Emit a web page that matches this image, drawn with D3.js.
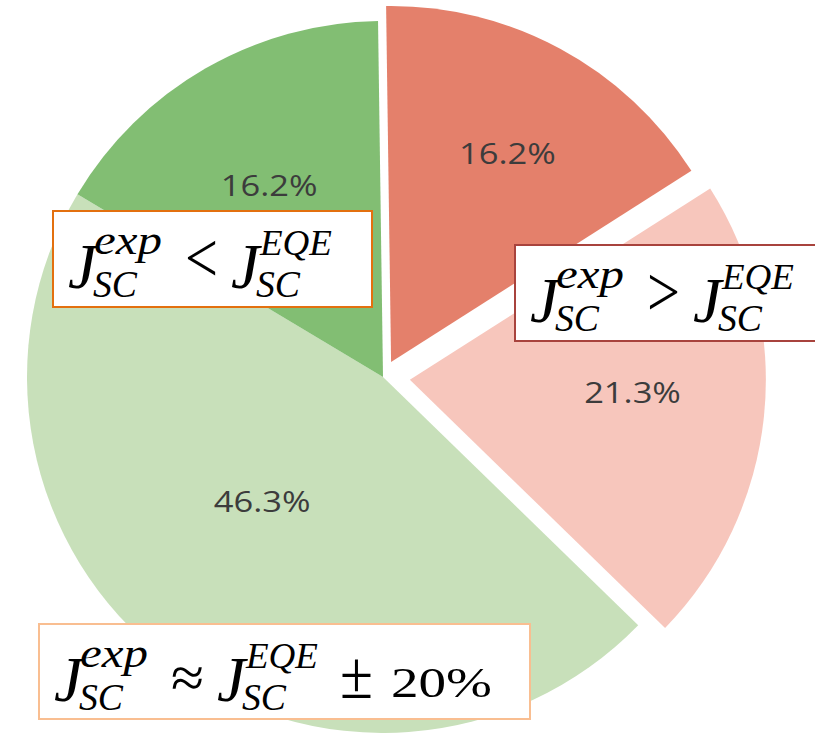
<!DOCTYPE html>
<html>
<head>
<meta charset="utf-8">
<script src="https://cdn.jsdelivr.net/npm/d3@7"></script>
<style>
  html, body { margin: 0; padding: 0; background: #fff; overflow: hidden; }
  svg { display: block; }
</style>
</head>
<body>
<svg id="chart" width="815" height="733"></svg>
<script>
// ---------------- data ----------------
const categories = ["J_SC^exp > J_SC^EQE (high)", "J_SC^exp > J_SC^EQE", "J_SC^exp ≈ J_SC^EQE ± 20%", "J_SC^exp < J_SC^EQE"];
const values = [16.2, 21.3, 46.3, 16.2];
const percentLabels = ["16.2%", "21.3%", "46.3%", "16.2%"];

// ---------------- styles / layout ----------------
const sliceColors = ["#E4806B", "#F7C6BC", "#C8E0BA", "#82BE73"];
const explode = [17, 27, 0, 0];           // pull-out distance per slice (px)
const labelNudge = [[8, -8], [-4, -11], [18, -56], [0, 6]];
const W = 815, H = 733;
const cx = 383, cy = 377, R = 356;
const rot = -0.8 * Math.PI / 180;

const svg = d3.select("#chart");
svg.append("rect").attr("width", W).attr("height", H).attr("fill", "#fff");

const pie = d3.pie().sort(null).value(d => d)
  .startAngle(rot).endAngle(rot + 2 * Math.PI);
const arcs = pie(values);
const arc = d3.arc().innerRadius(0).outerRadius(R);
const labelArc = d3.arc().innerRadius(R * 0.64).outerRadius(R * 0.64);

const g = svg.append("g").attr("transform", `translate(${cx},${cy})`);

function offset(d, i) {
  const a = (d.startAngle + d.endAngle) / 2;
  return [Math.sin(a) * explode[i], -Math.cos(a) * explode[i]];
}

g.selectAll("path.slice").data(arcs).join("path")
  .attr("class", "slice")
  .attr("d", arc)
  .attr("fill", (d, i) => sliceColors[i])
  .attr("transform", (d, i) => { const o = offset(d, i); return `translate(${o[0]},${o[1]})`; });

g.selectAll("text.pct").data(arcs).join("text")
  .attr("class", "pct")
  .attr("transform", (d, i) => {
    const c = labelArc.centroid(d), o = offset(d, i);
    return `translate(${c[0] + o[0] + labelNudge[i][0]},${c[1] + o[1] + labelNudge[i][1]}) scale(1.15,1)`;
  })
  .attr("text-anchor", "middle")
  .attr("dy", "0.36em")
  .attr("font-family", "'Open Sans', 'Noto Sans', sans-serif")
  .attr("font-size", 30)
  .attr("fill", "#3c3c3c")
  .text((d, i) => percentLabels[i]);

// ---------------- equation annotation boxes ----------------
const mathFont = "'Liberation Serif', 'DejaVu Serif', serif";
function eqSegments(rel, relSize, relBase, extra) {
  const s = [
    { t: "J", dx: 15, base: 77, size: 64, italic: true },
    { t: "exp", dx: 41, base: 43, size: 42, italic: true, len: 68 },
    { t: "SC", dx: 40, base: 86, size: 38, italic: true, len: 44 },
    { t: rel, dx: 132, base: relBase, size: relSize, italic: false, len: 33 },
    { t: "J", dx: 178, base: 77, size: 64, italic: true },
    { t: "EQE", dx: 207, base: 44, size: 35, italic: true, len: 72 },
    { t: "SC", dx: 203, base: 86, size: 38, italic: true, len: 44 }
  ];
  return extra ? s.concat(extra) : s;
}
const boxes = [
  { x: 53, y: 211, w: 319, h: 96, stroke: "#E3700F", segs: eqSegments("<", 72, 71) },
  { x: 515, y: 245, w: 320, h: 96, stroke: "#A8433D", segs: eqSegments(">", 72, 71) },
  { x: 39, y: 624, w: 491, h: 95, stroke: "#F9BE91", segs: eqSegments("≈", 58, 73, [
      { t: "±", dx: 301, base: 74, size: 68, italic: false, len: 33 },
      { t: "20%", dx: 352, base: 73, size: 42, italic: false, len: 101 }
    ]) }
];

boxes.forEach(b => {
  const bg = svg.append("g").attr("transform", `translate(${b.x},${b.y})`);
  bg.append("rect").attr("x", 0).attr("y", 0).attr("width", b.w).attr("height", b.h)
    .attr("fill", "#fff").attr("stroke", b.stroke).attr("stroke-width", 2);
  b.segs.forEach(s => {
    const t = bg.append("text")
      .attr("x", s.dx).attr("y", s.base)
      .attr("font-family", mathFont)
      .attr("font-size", s.size)
      .attr("font-style", s.italic ? "italic" : "normal")
      .attr("fill", "#000")
      .text(s.t);
    if (s.len) t.attr("textLength", s.len).attr("lengthAdjust", "spacingAndGlyphs");
  });
});
</script>
</body>
</html>
